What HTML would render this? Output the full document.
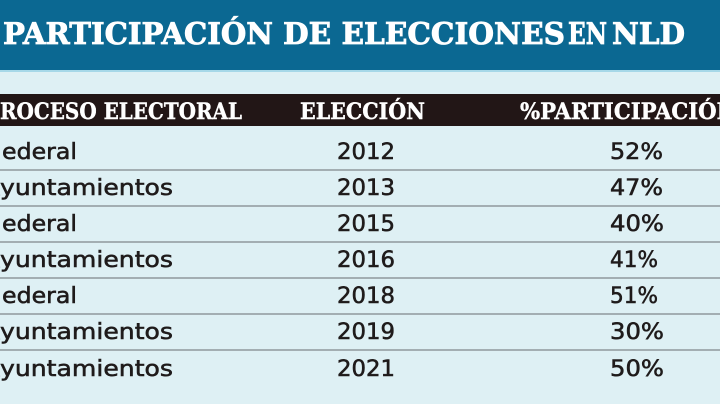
<!DOCTYPE html>
<html><head><meta charset="utf-8"><style>
html,body{margin:0;padding:0;background:#def0f4;}
svg{display:block;}
.t{font-family:"DejaVu Serif","Liberation Serif",serif;font-weight:bold;fill:#ffffff;}
.d{font-family:"DejaVu Sans","Liberation Sans",sans-serif;fill:#1f1b1b;font-size:22px;stroke:#1f1b1b;stroke-width:0.55px;}
</style></head><body>
<svg width="720" height="404" viewBox="0 0 720 404" xmlns="http://www.w3.org/2000/svg">
<rect x="0" y="0" width="720" height="404" fill="#def0f4"/>
<rect x="0" y="0" width="720" height="70" fill="#0b6892"/>
<rect x="0" y="70" width="720" height="2" fill="#a6d8e8"/>
<g class="t" font-size="30" stroke="#ffffff" stroke-width="0.8">
<text x="3" y="44" textLength="270" lengthAdjust="spacingAndGlyphs">PARTICIPACIÓN</text>
<text x="283" y="44" textLength="282" lengthAdjust="spacingAndGlyphs">DE ELECCIONES</text>
<text x="568" y="44" textLength="39" lengthAdjust="spacingAndGlyphs">EN</text>
<text x="612" y="44" textLength="73" lengthAdjust="spacingAndGlyphs">NLD</text>
</g>
<rect x="0" y="94" width="720" height="32" fill="#221616"/>
<g class="t" font-size="22" stroke="#ffffff" stroke-width="0.4">
<text x="-17" y="119" textLength="16" lengthAdjust="spacingAndGlyphs">P</text>
<text x="0" y="119" textLength="242" lengthAdjust="spacingAndGlyphs">ROCESO ELECTORAL</text>
<text x="300" y="119" textLength="125" lengthAdjust="spacingAndGlyphs">ELECCIÓN</text>
<text x="520" y="119" textLength="216" lengthAdjust="spacingAndGlyphs">%PARTICIPACIÓN</text>
</g>
<g fill="#a3aeb2">
<rect x="0" y="169" width="720" height="2"/>
<rect x="0" y="205" width="720" height="2"/>
<rect x="0" y="241" width="720" height="2"/>
<rect x="0" y="277" width="720" height="2"/>
<rect x="0" y="313" width="720" height="2"/>
<rect x="0" y="349" width="720" height="2"/>
</g>
<g class="d">
<text x="-13" y="159">F</text>
<text x="2" y="159" textLength="75" lengthAdjust="spacingAndGlyphs">ederal</text>
<text x="337" y="159" textLength="58" lengthAdjust="spacingAndGlyphs">2012</text>
<text x="610" y="159" textLength="53" lengthAdjust="spacingAndGlyphs">52%</text>

<text x="-15" y="195">A</text>
<text x="0" y="195" textLength="173" lengthAdjust="spacingAndGlyphs">yuntamientos</text>
<text x="337" y="195" textLength="58" lengthAdjust="spacingAndGlyphs">2013</text>
<text x="610" y="195" textLength="53" lengthAdjust="spacingAndGlyphs">47%</text>

<text x="-13" y="231">F</text>
<text x="2" y="231" textLength="75" lengthAdjust="spacingAndGlyphs">ederal</text>
<text x="337" y="231" textLength="58" lengthAdjust="spacingAndGlyphs">2015</text>
<text x="610" y="231" textLength="54" lengthAdjust="spacingAndGlyphs">40%</text>

<text x="-15" y="267">A</text>
<text x="0" y="267" textLength="173" lengthAdjust="spacingAndGlyphs">yuntamientos</text>
<text x="337" y="267" textLength="58" lengthAdjust="spacingAndGlyphs">2016</text>
<text x="610" y="267" textLength="48" lengthAdjust="spacingAndGlyphs">41%</text>

<text x="-13" y="303">F</text>
<text x="2" y="303" textLength="75" lengthAdjust="spacingAndGlyphs">ederal</text>
<text x="337" y="303" textLength="58" lengthAdjust="spacingAndGlyphs">2018</text>
<text x="610" y="303" textLength="48" lengthAdjust="spacingAndGlyphs">51%</text>

<text x="-15" y="339">A</text>
<text x="0" y="339" textLength="173" lengthAdjust="spacingAndGlyphs">yuntamientos</text>
<text x="337" y="339" textLength="58" lengthAdjust="spacingAndGlyphs">2019</text>
<text x="610" y="339" textLength="54" lengthAdjust="spacingAndGlyphs">30%</text>

<text x="-15" y="376">A</text>
<text x="0" y="376" textLength="173" lengthAdjust="spacingAndGlyphs">yuntamientos</text>
<text x="337" y="376" textLength="58" lengthAdjust="spacingAndGlyphs">2021</text>
<text x="610" y="376" textLength="54" lengthAdjust="spacingAndGlyphs">50%</text>
</g>
</svg>
</body></html>
